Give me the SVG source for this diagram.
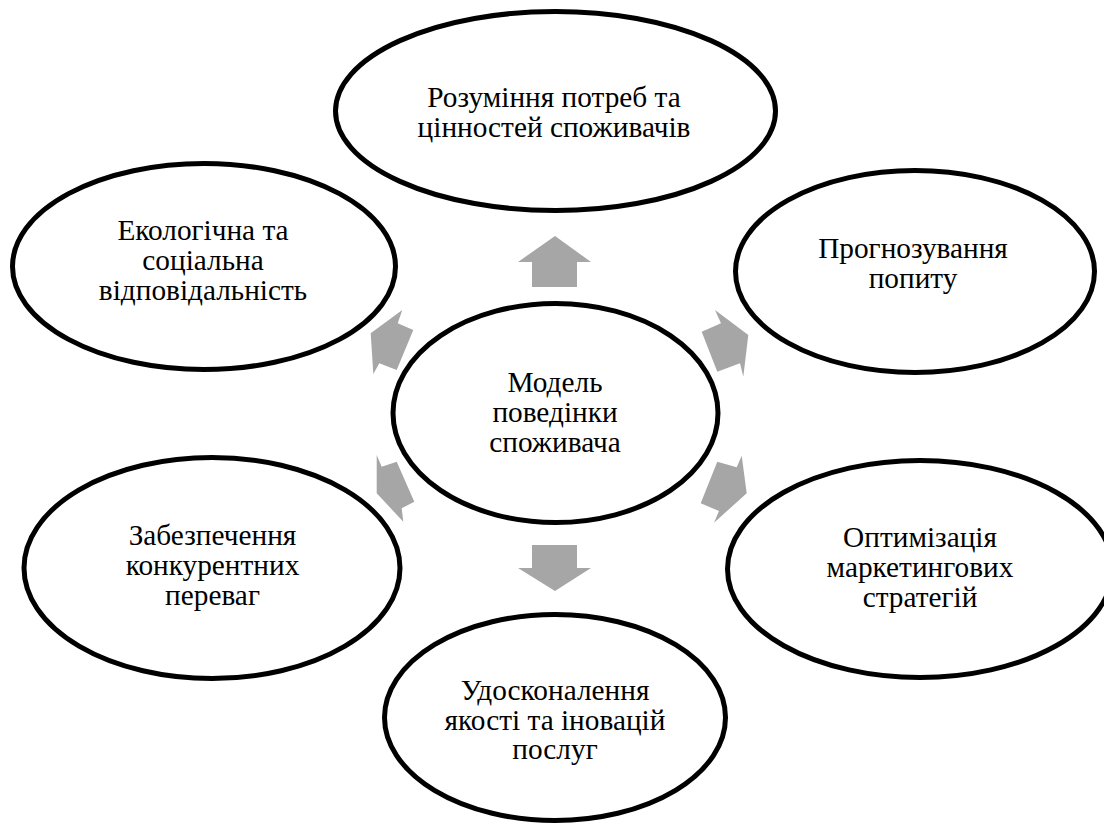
<svg xmlns="http://www.w3.org/2000/svg" width="1104" height="828" viewBox="0 0 1104 828">
<style>
.node ellipse{fill:#fff;stroke:#000;stroke-width:5}
.node text{font-family:'Liberation Serif','Times New Roman',Times,serif;font-size:29.3px;fill:#000;text-anchor:middle}
.arrow{fill:#a6a6a6;stroke:none}
</style>
<rect width="1104" height="828" fill="#fff"/>
<g id="connectors">
<polygon class="arrow" points="555,236 591,262 577,262 577,287 532,287 532,262 518,262"/>
<polygon class="arrow" points="532,545 577,545 577,568 591,568 555,591 518,568 532,568"/>
<polygon class="arrow" points="715,310 721,323.3 701.7,331.7 717.3,371.7 740,363.3 743.3,376.7 748.3,335"/>
<polygon class="arrow" points="717.3,461.7 736.7,467.3 741.7,455.7 746.7,493.3 714,522.7 719,511 700.7,503.3"/>
<polygon class="arrow" points="376.7,455 381.7,466.7 396.7,461.7 414.3,501.7 401.7,508.3 403.3,521.7 376.7,493.3"/>
<polygon class="arrow" points="402.3,310 397.7,323.3 413.3,330 396.7,370 379.3,363.3 373.3,374 370.7,333.3"/>
</g>
<g id="node-top" class="node">
<ellipse cx="555.5" cy="111" rx="220" ry="99.5"/>
<text x="554" y="107">Розуміння потреб та</text>
<text x="554" y="137">цінностей споживачів</text>
</g>
<g id="node-left-upper" class="node">
<ellipse cx="204" cy="266.5" rx="191.5" ry="103"/>
<text x="203" y="239.5">Екологічна та</text>
<text x="203" y="269.5">соціальна</text>
<text x="203" y="299.5">відповідальність</text>
</g>
<g id="node-right-upper" class="node">
<ellipse cx="915" cy="271.5" rx="179.5" ry="101"/>
<text x="913" y="258">Прогнозування</text>
<text x="913" y="288">попиту</text>
</g>
<g id="node-left-lower" class="node">
<ellipse cx="212" cy="568" rx="188" ry="110.5"/>
<text x="212.5" y="545">Забезпечення</text>
<text x="212.5" y="575">конкурентних</text>
<text x="212.5" y="605">переваг</text>
</g>
<g id="node-right-lower" class="node">
<ellipse cx="920" cy="569" rx="192.5" ry="108.5"/>
<text x="920" y="547">Оптимізація</text>
<text x="920" y="577">маркетингових</text>
<text x="920" y="607">стратегій</text>
</g>
<g id="node-bottom" class="node">
<ellipse cx="555" cy="717.5" rx="170.5" ry="103"/>
<text x="555" y="700">Удосконалення</text>
<text x="555" y="730">якості та іновацій</text>
<text x="555" y="759">послуг</text>
</g>
<g id="node-center" class="node">
<ellipse cx="555.5" cy="413" rx="162.5" ry="109.5"/>
<text x="555" y="392">Модель</text>
<text x="555" y="422">поведінки</text>
<text x="555" y="452">споживача</text>
</g>
</svg>
